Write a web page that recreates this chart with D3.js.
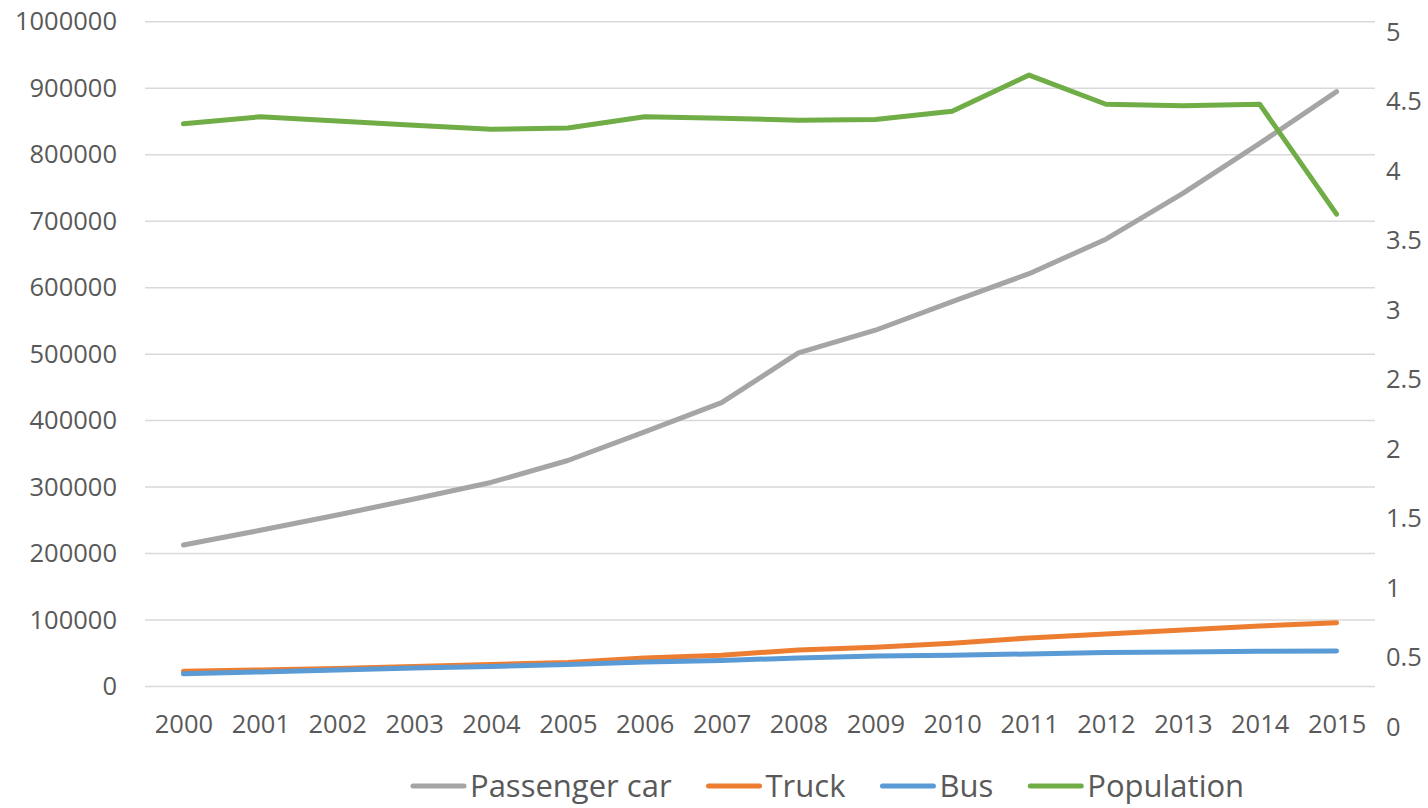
<!DOCTYPE html>
<html>
<head>
<meta charset="utf-8">
<script src="https://cdn.jsdelivr.net/npm/d3@7"></script>
<style>
  body { margin: 0; background: #fff; }
  text { font-family: "Open Sans", "Noto Sans", sans-serif; fill: #595959; }
</style>
</head>
<body>
<svg id="chart" width="1428" height="808"></svg>
<script>
// years on the x axis
const years = ["2000", "2001", "2002", "2003", "2004", "2005", "2006", "2007",
               "2008", "2009", "2010", "2011", "2012", "2013", "2014", "2015"];

// left axis series
const passengerCar = [213000, 235000, 258000, 282000, 307000, 340000, 383000, 427000,
                      502000, 536000, 579000, 621000, 673000, 742000, 817000, 895000];
const truck = [23000, 25000, 27000, 30000, 33000, 36000, 43000, 47000,
               55000, 59000, 65000, 73000, 79000, 85000, 91000, 96000];
const bus = [19000, 22000, 25000, 28000, 30000, 33000, 37000, 39000,
             43000, 46000, 47000, 49000, 51000, 52000, 53000, 53500];

// right axis series
const population = [4.34, 4.39, 4.36, 4.33, 4.30, 4.31, 4.39, 4.38,
                    4.365, 4.37, 4.43, 4.69, 4.48, 4.47, 4.48, 3.69];

const leftTicks = [0, 100000, 200000, 300000, 400000, 500000, 600000, 700000, 800000, 900000, 1000000];
const rightTicks = [0, 0.5, 1, 1.5, 2, 2.5, 3, 3.5, 4, 4.5, 5];

const seriesNames = ["Passenger car", "Truck", "Bus", "Population"];
const seriesColors = ["#a5a5a5", "#ed7d31", "#5b9bd5", "#70ad47"];

const svg = d3.select("#chart");

const x = d3.scalePoint()
    .domain(years)
    .range([145, 1375])
    .padding(0.5);

const yL = d3.scaleLinear()
    .domain([0, 1000000])
    .range([686.5, 21.8]);

// right axis labels sit a little lower than the gridlines in the picture
const yR = d3.scaleLinear()
    .domain([0, 5])
    .range([727, 32]);

// gridlines
svg.append("g")
    .selectAll("line")
    .data(leftTicks)
    .join("line")
    .attr("x1", 145)
    .attr("x2", 1375)
    .attr("y1", d => yL(d))
    .attr("y2", d => yL(d))
    .attr("stroke", "#d9d9d9")
    .attr("stroke-width", 1.5);

// left axis
const gl = svg.append("g")
    .attr("transform", "translate(145,0)")
    .call(d3.axisLeft(yL).tickValues(leftTicks).tickSize(0).tickPadding(28).tickFormat(d3.format("d")));
gl.select(".domain").remove();
gl.selectAll("text").attr("font-size", 25.5).attr("fill", "#595959").attr("font-family", null);

// bottom axis
const gb = svg.append("g")
    .attr("transform", "translate(0,686.5)")
    .call(d3.axisBottom(x).tickSize(0).tickPadding(28.5));
gb.select(".domain").remove();
gb.selectAll("text").attr("font-size", 25.5).attr("fill", "#595959").attr("font-family", null);

// right axis
const gr = svg.append("g")
    .attr("transform", "translate(1386,0)")
    .call(d3.axisRight(yR).tickValues(rightTicks).tickSize(0).tickPadding(0).tickFormat(d => String(d)));
gr.select(".domain").remove();
gr.selectAll("text").attr("font-size", 25.5).attr("fill", "#595959").attr("font-family", null);

// lines
const lineL = d3.line()
    .x((d, i) => x(years[i]))
    .y(d => yL(d));

const lineR = d3.line()
    .x((d, i) => x(years[i]))
    .y(d => yR(d));

const lines = [
    { data: passengerCar, gen: lineL },
    { data: truck, gen: lineL },
    { data: bus, gen: lineL },
    { data: population, gen: lineR }
];

lines.forEach((s, i) => {
    svg.append("path")
        .datum(s.data)
        .attr("fill", "none")
        .attr("stroke", seriesColors[i])
        .attr("stroke-width", 5)
        .attr("stroke-linecap", "round")
        .attr("stroke-linejoin", "round")
        .attr("d", s.gen);
});

// legend
const legend = svg.append("g").attr("transform", "translate(0,786)");
let lx = 411;
seriesNames.forEach((name, i) => {
    const item = legend.append("g").attr("transform", "translate(" + lx + ",0)");
    item.append("line")
        .attr("x1", 2)
        .attr("x2", 53)
        .attr("stroke", seriesColors[i])
        .attr("stroke-width", 5)
        .attr("stroke-linecap", "round");
    const t = item.append("text")
        .attr("x", 59)
        .attr("dy", "0.36em")
        .attr("font-size", 31)
        .text(name);
    lx += 59 + t.node().getComputedTextLength() + 35;
});
</script>
</body>
</html>
